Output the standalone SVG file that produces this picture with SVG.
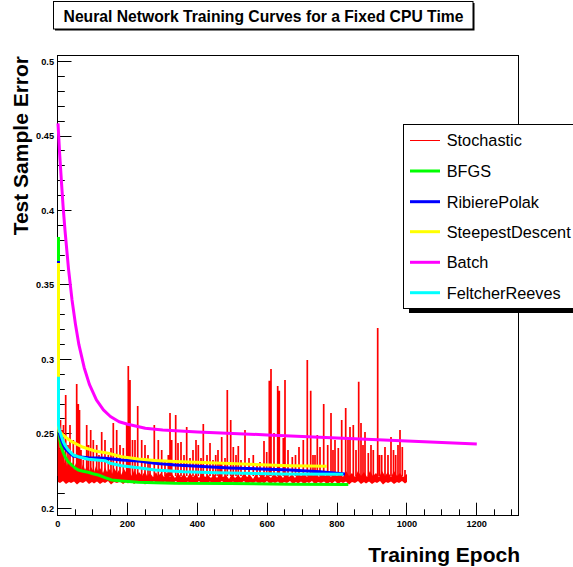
<svg xmlns="http://www.w3.org/2000/svg" width="573" height="567" viewBox="0 0 573 567">
  <style>
    .ttl { font-family: "Liberation Sans", Arial, sans-serif; font-weight: bold; fill: #000; }
    .tick-lbl { font-family: "Liberation Sans", Arial, sans-serif; font-weight: bold; font-size: 9.2px; fill: #000; }
    .leg-lbl { font-family: "Liberation Sans", Arial, sans-serif; font-size: 16.3px; fill: #000; }
    .curve { fill: none; stroke-width: 3; stroke-linejoin: round; stroke-linecap: butt; }
    .tk { fill: none; stroke: #000; stroke-width: 1; }
  </style>

  <rect width="573" height="567" fill="#fff"/>

  <!-- title pave with shadow -->
  <g id="title">
    <rect x="55" y="3" width="419.5" height="27.5" fill="#000"/>
    <rect x="53.5" y="1.5" width="419.5" height="27.5" fill="#fff" stroke="#000" stroke-width="1"/>
    <text class="ttl" x="263.5" y="21.7" font-size="15.7" text-anchor="middle">Neural Network Training Curves for a Fixed CPU Time</text>
  </g>

  <!-- frame and axes -->
  <g id="axes">
    <rect x="57.5" y="55.5" width="461" height="460" fill="none" stroke="#000" stroke-width="1"/>
    <!-- y axis ticks: major every 0.05, minor every 0.01 -->
    <path class="tk" d="M58,508.5H71.5M58,493.5H64.8M58,478.5H64.8M58,463.5H64.8M58,448.5H64.8M58,433.5H71.5M58,418.5H64.8M58,404.5H64.8M58,389.5H64.8M58,374.5H64.8M58,359.5H71.5M58,344.5H64.8M58,329.5H64.8M58,314.5H64.8M58,299.5H64.8M58,284.5H71.5M58,270.5H64.8M58,255.5H64.8M58,240.5H64.8M58,225.5H64.8M58,210.5H71.5M58,195.5H64.8M58,180.5H64.8M58,165.5H64.8M58,150.5H64.8M58,136.5H71.5M58,121.5H64.8M58,106.5H64.8M58,91.5H64.8M58,76.5H64.8M58,61.5H71.5"/>
    <!-- x axis ticks: major every 200, minor every 50 -->
    <path class="tk" d="M75.5,516V509.3M92.5,516V509.3M110.5,516V509.3M127.5,516V502.7M145.5,516V509.3M162.5,516V509.3M179.5,516V509.3M197.5,516V502.7M214.5,516V509.3M232.5,516V509.3M249.5,516V509.3M267.5,516V502.7M284.5,516V509.3M302.5,516V509.3M319.5,516V509.3M337.5,516V502.7M354.5,516V509.3M372.5,516V509.3M389.5,516V509.3M406.5,516V502.7M424.5,516V509.3M441.5,516V509.3M459.5,516V509.3M476.5,516V502.7M494.5,516V509.3M511.5,516V509.3"/>
    <g class="tick-lbl" text-anchor="end">
      <text x="54" y="64.7">0.5</text>
      <text x="54" y="139.3">0.45</text>
      <text x="54" y="213.7">0.4</text>
      <text x="54" y="288.2">0.35</text>
      <text x="54" y="362.6">0.3</text>
      <text x="54" y="437">0.25</text>
      <text x="54" y="511.5">0.2</text>
    </g>
    <g class="tick-lbl" text-anchor="middle">
      <text x="57.7" y="526.7">0</text>
      <text x="127.5" y="526.7">200</text>
      <text x="197.4" y="526.7">400</text>
      <text x="267.2" y="526.7">600</text>
      <text x="337" y="526.7">800</text>
      <text x="406.9" y="526.7">1000</text>
      <text x="476.7" y="526.7">1200</text>
    </g>
    <text class="ttl" font-size="21" text-anchor="end" transform="translate(28,56) rotate(-90)">Test Sample Error</text>
    <text class="ttl" font-size="21" text-anchor="end" x="520" y="561.5">Training Epoch</text>
  </g>

  <!-- training curves -->
  <g id="curves">
    <g id="stochastic" fill="#f00" stroke="#f00">
      <!-- dense noise band -->
      <polygon stroke="none" points="58,440 59,450 60,446 61,457 62,452 63,461 64,456 65,464 66,459 67,466 69,461 71,467 72,462 74,468 76,463 77,469 79,465 81,470 83,464 85,470 87,466 89,471 91,467 94,472 96,466 98,471 100,468 103,473 105,467 107,472 110,469 112,474 114,468 117,473 119,470 121,475 124,469 127,474 129,471 132,476 134,470 137,475 139,472 142,476 145,471 147,476 150,473 153,477 156,472 158,476 161,473 164,477 167,472 170,477 172,474 175,478 178,473 181,477 184,474 187,478 190,473 193,477 196,474 199,478 202,473 205,477 208,475 211,478 214,474 217,478 220,473 223,477 226,475 229,479 232,474 235,478 238,475 241,478 244,473 247,477 250,475 253,479 256,474 259,478 262,473 265,477 268,475 271,478 274,473 277,477 280,474 283,478 286,472 289,477 292,474 295,478 298,472 301,476 304,473 307,477 310,472 313,476 316,473 319,477 322,471 325,476 328,473 331,477 334,471 337,476 340,473 343,477 346,471 349,476 352,473 355,477 358,471 361,476 364,472 367,477 370,471 373,476 376,473 379,477 382,471 385,476 388,472 391,477 394,471 397,476 400,473 403,477 407,474 407,482 405,483.5 402,481 399,483 397,482 394,484 391,481.5 388,483 386,482 383,484.5 380,481 377,483 375,482 372,484 369,481.5 366,483.5 364,482 361,484 358,481 355,483 352,482 349,484.5 346,481.5 343,483 341,482 338,484 335,481 332,483.5 330,482 327,484 324,481.5 321,483 318,482 315,484.5 312,481 309,483 307,482 304,484 301,481.5 298,483.5 296,482 293,484 290,481 287,483 284,482 281,484.5 278,481.5 275,483 273,482 270,484 267,481 264,483.5 262,482 259,484 256,481.5 253,483 250,482 247,484.5 244,481 241,483 239,482 236,484 233,481.5 230,483.5 228,482 225,484 222,481 219,483 216,482 213,484.5 210,481.5 207,483 205,482 202,484 199,481 196,483.5 194,482 191,484 188,481.5 185,483 182,482 179,484.5 176,481 173,483 171,482 168,484 165,481.5 162,483.5 160,482 157,484 154,481 151,483 148,482 145,484.5 142,481.5 139,483 137,482 134,484 131,481 128,483.5 126,482 123,484 120,481.5 117,483 114,482 111,484.5 108,481 105,483 103,482 100,484 97,481.5 94,483.5 92,482 89,484 86,481 83,483 80,482 77,484.5 74,481.5 71,483 69,482 66,484 63,481 60,483 58,482"/>
      <!-- spikes -->
      <path fill="none" stroke-width="1.7" d="M58.5,476V410M60.5,476V420M62,476V430M63.5,476V425M65.7,476V395M68,476V445M70,476V425M73.3,476V440M76.7,476V384M78.3,476V404M79.5,476V410M81,476V450M83.3,476V460M86.7,476V425M88.5,476V445M90.7,476V430M93.3,476V440M96.7,476V445M99,476V455M101.7,476V432M105,476V440M108.3,476V455M111,476V448M113.3,476V423M116.7,476V430M120,476V445M123.3,476V448M126.7,476V425M128.3,476V366M130,476V380M132.5,476V440M135,476V440M137.7,476V406M141.7,476V440M145,476V445M148,476V455M150,476V460M154.3,476V425M158.3,476V440M161.7,476V450M165,476V462M168.3,476V455M170,476V413M171.7,476V440M175.7,476V415M178,476V443M181,476V442M184,476V455M186.7,476V427M190,476V458M193,476V450M196,476V440M198.3,476V445M201,476V458M203.3,476V424M207,476V455M210,476V443M213,476V460M215.7,476V455M218,476V450M220,476V462M221.7,476V437M225,476V458M227.3,476V390M230.7,476V420M233.3,476V447M236,476V455M238.3,476V446M241,476V460M245,476V430M249,476V458M253.3,476V455M257,476V465M260,476V462M264,476V441M266.7,476V452M269.3,476V380.7M271,476V369M274,476V433M277.7,476V386M279.3,476V390.7M283.3,476V438M285,476V380M288,476V450M292.3,476V457M295.5,476V455M299,476V447M303.3,476V440M307.3,476V360M310.7,476V390.7M313,476V455M315,476V455M317.3,476V435M320,476V447M323.7,476V404M327.7,476V445M331,476V413M333,476V450M335,476V440M338.3,476V448M341.7,476V420M345.7,476V408M348,476V440M350,476V427M353.3,476V425M356,476V450M358.7,476V381.7M361,476V423M363,476V445M365,476V432M368.3,476V453M371,476V445M373.3,476V450M377.7,476V328M379.5,476V455M381.7,476V455M385,476V447M388,476V455M391,476V437M393.5,476V450M395.7,476V455M398,476V445M400,476V430M402.3,476V447M405,476V470"/>
    </g>
    <path id="bfgs" class="curve" stroke="#0f0" d="M58.5,237L58.5,430L59,435L61,446L63,452L65,456.7L68,461.5L71.7,465L75,468L78.3,470L83,471.3L88.3,472.3L93,473.7L98.3,475L105,477.7L111.7,480L121.7,481L138.3,482.3L155,482.7L175,483.3L230,483.5L290,484.3L348.3,484.5"/>
    <path id="ribiere-polak" class="curve" stroke="#00f" d="M58.5,261L58.5,428L59,431.7L61,439L63.3,445L65.5,449L68.3,451.7L73.3,456L78.3,456.7L88.3,457.7L105,458.3L121.7,460L138.3,461L155,463.3L175,465L230,468L290,470L320,471.7L345,474"/>
    <path id="steepest-descent" class="curve" stroke="#ff0" d="M58.5,263L58.5,428L59,431L62,434L65,436.7L71.7,441.7L81.7,446.7L95,451L108.3,453.3L121.7,456.7L138.3,459L155,460.5L175,461.5L230,463.5L290,465.7L326.7,466.3"/>
    <path id="batch" class="curve" stroke="#f0f" d="M58,123.4L59.7,154.7L61.5,182.7L63.2,207.8L65,230.4L68.5,268.8L72,299.7L75.5,324.6L78.9,344.7L84.2,367.7L89.4,384.4L96.4,399.8L103.4,409.8L110.4,416.5L119.1,421.8L127.8,424.2L145.3,428.2L162.7,430L197.6,431.9L267.4,434.9L337.2,438L407,441L476.8,444"/>
    <path id="feltcher-reeves" class="curve" stroke="#0ff" d="M58.5,376.7L58.5,425L59,428.3L61,435L63.3,441.7L65.5,446L68.3,450L73.3,455L78.3,456.7L88.3,459.3L105,460.7L110,463.3L121.7,465.7L138.3,467.7L155,470L183.3,471.7L216.7,472.7L280,474L343.3,474.3"/>
  </g>

  <!-- legend with shadow -->
  <g id="legend">
    <rect x="409" y="130" width="200" height="183" fill="#000"/>
    <rect x="403.5" y="124.5" width="200" height="184" fill="#fff" stroke="#000" stroke-width="1"/>
    <line x1="410" y1="140.5" x2="440" y2="140.5" stroke="#f00" stroke-width="1"/>
    <line x1="410" y1="171" x2="440" y2="171" stroke="#0f0" stroke-width="3"/>
    <line x1="410" y1="201.7" x2="440" y2="201.7" stroke="#00f" stroke-width="3"/>
    <line x1="410" y1="231.7" x2="440" y2="231.7" stroke="#ff0" stroke-width="3"/>
    <line x1="410" y1="262.3" x2="440" y2="262.3" stroke="#f0f" stroke-width="3"/>
    <line x1="410" y1="292.7" x2="440" y2="292.7" stroke="#0ff" stroke-width="3"/>
    <text class="leg-lbl" x="446.7" y="145.8">Stochastic</text>
    <text class="leg-lbl" x="446.7" y="176.8">BFGS</text>
    <text class="leg-lbl" x="446.7" y="207.5">RibierePolak</text>
    <text class="leg-lbl" x="446.7" y="237.5">SteepestDescent</text>
    <text class="leg-lbl" x="446.7" y="268.1">Batch</text>
    <text class="leg-lbl" x="446.7" y="298.5">FeltcherReeves</text>
  </g>
</svg>
